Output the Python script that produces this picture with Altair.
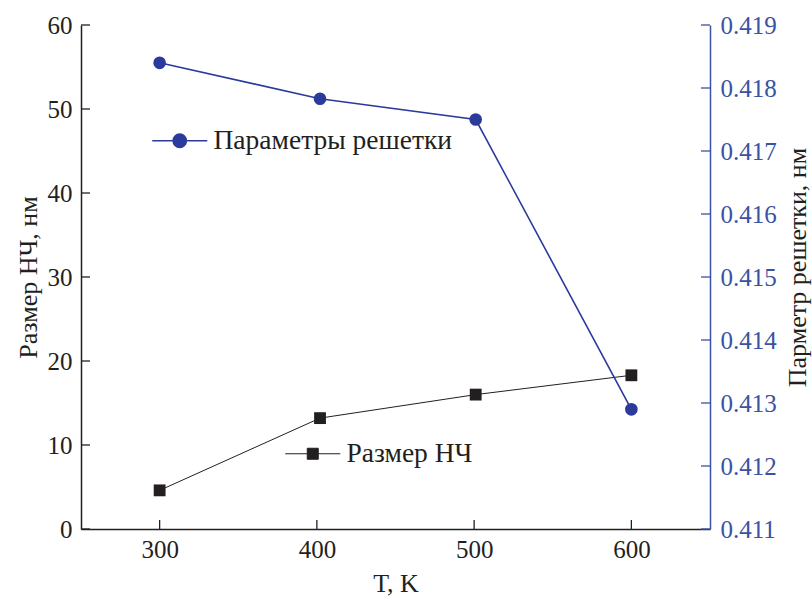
import altair as alt
import pandas as pd

# ---- data ----
T_size = [300, 402, 501, 600]
size_nm = [4.6, 13.2, 16.0, 18.3]
T_lat = [300, 402, 501, 600]
lattice_nm = [0.41840, 0.41783, 0.41750, 0.41290]

x_ticks = [300, 400, 500, 600]
size_ticks = [0, 10, 20, 30, 40, 50, 60]
lat_ticks = [0.411, 0.412, 0.413, 0.414, 0.415, 0.416, 0.417, 0.418, 0.419]

size_label = "Размер НЧ"
lat_label = "Параметры решетки"
x_title = "T, K"
y_left_title = "Размер НЧ, нм"
y_right_title = "Парметр решетки, нм"

# ---- styles ----
W, H = 629, 504
FONT = "Liberation Serif, Times New Roman, DejaVu Serif, serif"
BLUE = "#2b3a9b"
AXBLUE = "#3a52a3"
INK = "#231f20"
FS = 25      # tick labels
FT = 26      # axis titles
FLEG = 27.5  # legend labels

size_df = pd.DataFrame({"T": T_size, "size": size_nm, "series": size_label})
lat_df = pd.DataFrame({"T": T_lat, "lat": lattice_nm, "series": lat_label})
xt_df = pd.DataFrame({"T": x_ticks})
st_df = pd.DataFrame({"size": size_ticks})
lt_df = pd.DataFrame({"lat": lat_ticks})

x_enc = alt.X(
    "T:Q",
    scale=alt.Scale(domain=[250, 650], nice=False, zero=False),
    axis=alt.Axis(values=x_ticks, title=x_title, ticks=False, labelPadding=8,
                  format="d", grid=False, domainColor=INK, labelColor=INK,
                  titleColor=INK, titleY=54, titleBaseline="middle",
                  labelFont=FONT, titleFont=FONT, labelFontSize=FS, titleFontSize=FT),
)
y_size = alt.Y(
    "size:Q",
    scale=alt.Scale(domain=[0, 60], nice=False),
    axis=alt.Axis(values=size_ticks, title=y_left_title, ticks=False, labelPadding=9,
                  grid=False, domainColor=INK, labelColor=INK, titleColor=INK,
                  titleAngle=-90, titleX=-53, titleY=252, titleAlign="center",
                  titleBaseline="middle",
                  labelFont=FONT, titleFont=FONT, labelFontSize=FS, titleFontSize=FT),
)
y_lat = alt.Y(
    "lat:Q",
    scale=alt.Scale(domain=[0.411, 0.419], nice=False, zero=False),
    axis=alt.Axis(orient="right", values=lat_ticks, format=".3f", title=y_right_title,
                  ticks=False, labelPadding=10, grid=False, domainColor=AXBLUE,
                  labelColor=AXBLUE, titleColor=INK, titleAngle=-90, titleX=87,
                  titleY=242, titleAlign="center", titleBaseline="middle",
                  labelFont=FONT, titleFont=FONT, labelFontSize=FS, titleFontSize=FT),
)

SQ_PATH = "M-2.5,0H-0.5M0.5,0H2.5M-0.5,-0.5H0.5V0.5H-0.5Z"
CI_PATH = ("M-2.5,0H-0.6M0.6,0H2.5M-0.6,0A0.6,0.6,0,1,1,0.6,0"
           "A0.6,0.6,0,1,1,-0.6,0Z")

size_line = alt.Chart(size_df).mark_line(color=INK, strokeWidth=1).encode(x=x_enc, y=y_size)
size_pts = alt.Chart(size_df).mark_point(shape="square", filled=True, size=140, opacity=1).encode(
    x=x_enc, y=y_size,
    color=alt.Color("series:N", scale=alt.Scale(domain=[size_label], range=[INK]),
                    legend=alt.Legend(title=None, orient="none", legendX=218, legendY=415,
                                      symbolType=SQ_PATH, symbolSize=484,
                                      symbolStrokeColor=INK, symbolFillColor=INK,
                                      symbolStrokeWidth=1, labelFont=FONT, labelFontSize=FLEG,
                                      labelColor=INK, labelOffset=20, labelLimit=500,
                                      padding=0)),
)
x_tick_rules = alt.Chart(xt_df).mark_rule(color=INK, strokeWidth=1.3).encode(
    x=x_enc, y=alt.value(H), y2=alt.value(H - 9))
left_tick_rules = alt.Chart(st_df).mark_rule(color=INK, strokeWidth=1.3).encode(
    y=y_size, x=alt.value(0), x2=alt.value(9))

lat_line = alt.Chart(lat_df).mark_line(color=BLUE, strokeWidth=1.6).encode(x=x_enc, y=y_lat)
lat_pts = alt.Chart(lat_df).mark_point(shape="circle", filled=True, size=160, opacity=1).encode(
    x=x_enc, y=y_lat,
    color=alt.Color("series:N", scale=alt.Scale(domain=[lat_label], range=[BLUE]),
                    legend=alt.Legend(title=None, orient="none", legendX=85, legendY=102,
                                      symbolType=CI_PATH, symbolSize=484,
                                      symbolStrokeColor=BLUE, symbolFillColor=BLUE,
                                      symbolStrokeWidth=1.6, labelFont=FONT, labelFontSize=FLEG,
                                      labelColor=INK, labelOffset=20, labelLimit=500,
                                      padding=0)),
)
right_tick_rules = alt.Chart(lt_df).mark_rule(color=AXBLUE, strokeWidth=1.3).encode(
    y=y_lat, x=alt.value(W), x2=alt.value(W - 9))

left = alt.layer(size_line, size_pts, x_tick_rules, left_tick_rules)
right = alt.layer(lat_line, lat_pts, right_tick_rules)

chart = (
    alt.layer(left, right)
    .resolve_scale(y="independent", color="independent")
    .resolve_legend(color="independent")
    .properties(width=W, height=H, autosize=alt.AutoSizeParams(type="none"),
                padding={"left": 81, "top": 25, "right": 102, "bottom": 72},
                background="white")
    .configure(font=FONT)
    .configure_view(stroke=None)
    .configure_axis(titleFontWeight="normal", domainWidth=1.5)
    .configure_legend(labelFont=FONT)
)

chart.save("out.html", embed_options={"renderer": "svg", "actions": False})
